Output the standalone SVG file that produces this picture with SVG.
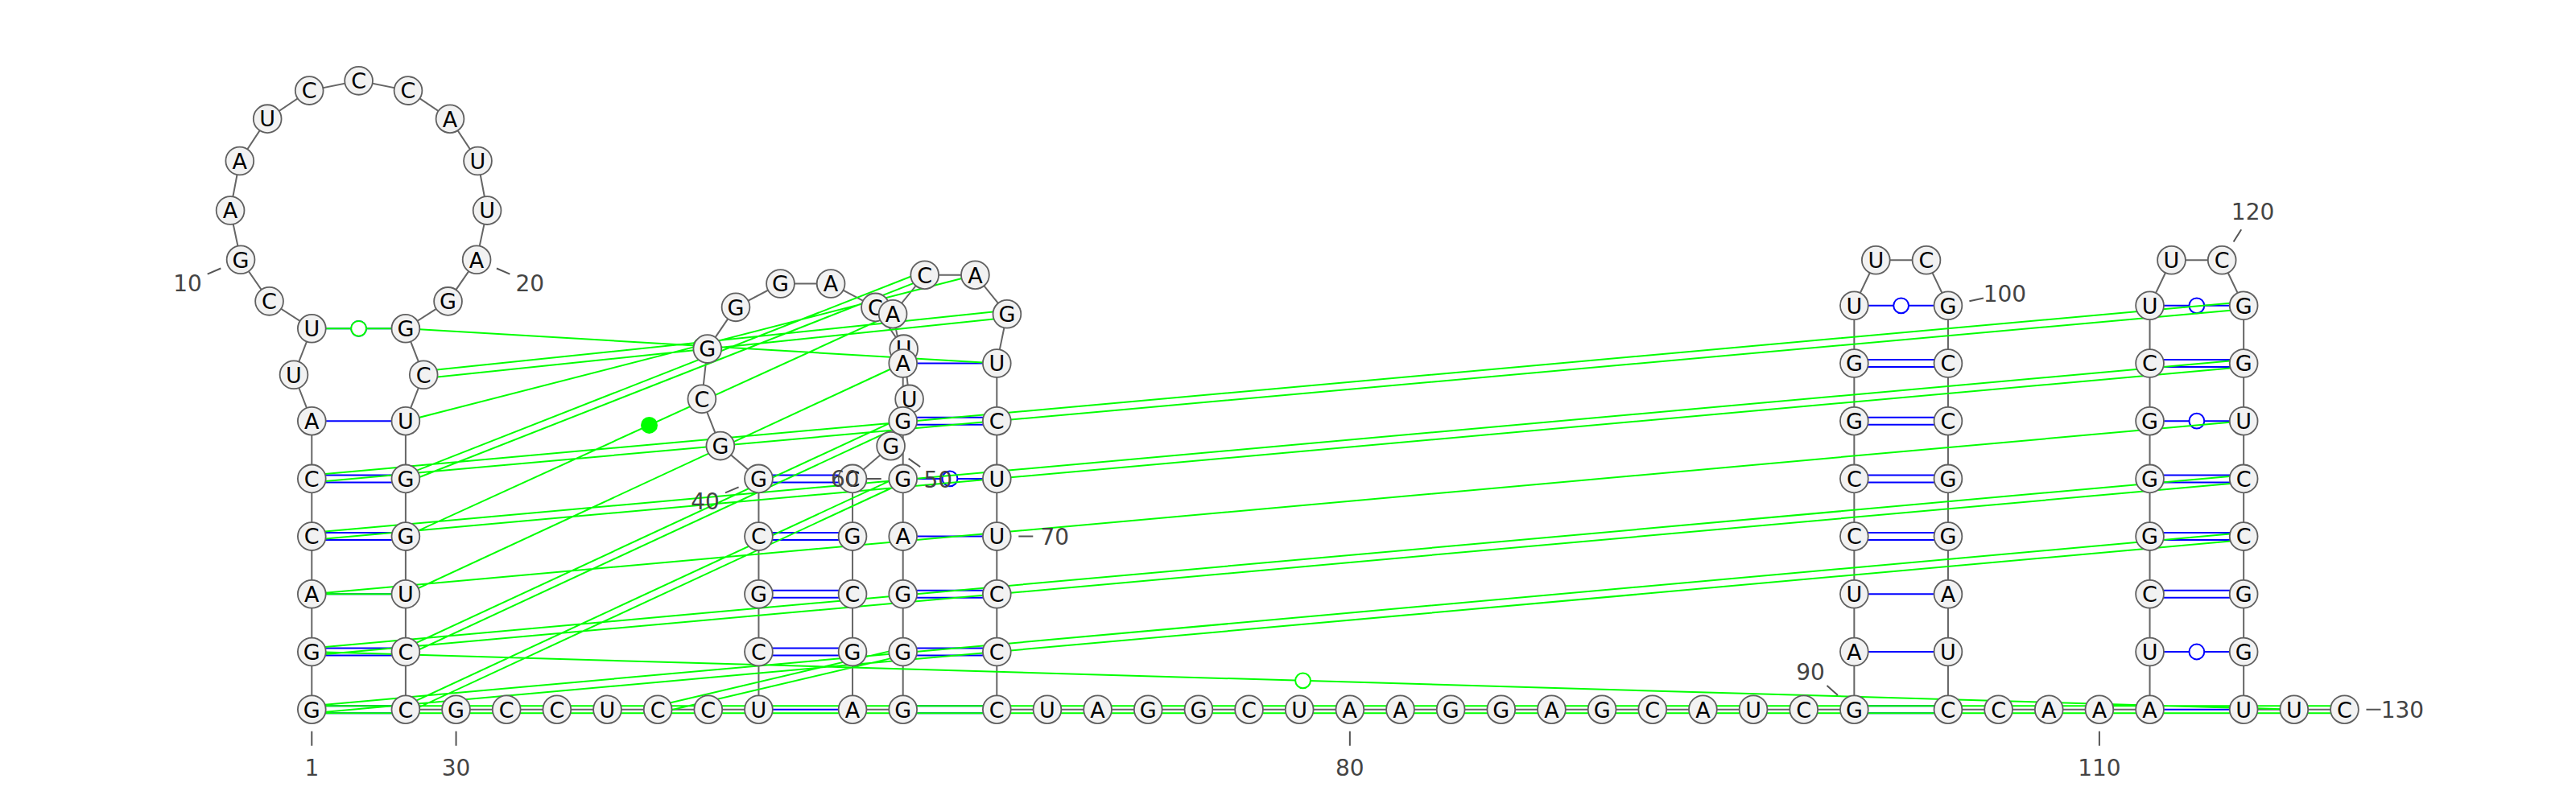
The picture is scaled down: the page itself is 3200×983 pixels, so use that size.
<svg xmlns="http://www.w3.org/2000/svg" width="3200" height="983" viewBox="0 0 3200 983">
<style>
.bb{fill:none;stroke:#666;stroke-width:2}
.bp{fill:none;stroke:#0000ff;stroke-width:2}
.bc{fill:#fff;stroke:#0000ff;stroke-width:2}
.gp{fill:none;stroke:#00ff00;stroke-width:2}
.gc{fill:#fff;stroke:#00ff00;stroke-width:2}
.gd{fill:#00ff00;stroke:none}
.nodes circle{fill:#f2f2f2;stroke:#606060;stroke-width:1.8}
.nodes text{font-family:"DejaVu Sans",Verdana,sans-serif;font-size:27px;fill:#000;text-anchor:middle}
.tick{fill:none;stroke:#555;stroke-width:2}
.num{font-family:"DejaVu Sans",Verdana,sans-serif;font-size:28px;fill:#444;text-anchor:middle}
</style>
<rect width="3200" height="983" fill="#fff"/>
<g id="connectors">
<polyline id="backbone" class="bb" points="387.3,881.7 387.3,810 387.3,738.3 387.3,666.6 387.3,594.9 387.3,523.2 365,465.75 387.3,408.3 334.55,374.34 299.05,322.8 286.1,261.5 297.8,199.96 332.2,147.65 384.2,112.6 445.6,100.34 507,112.6 559,147.7 593.5,200 605.1,261.6 592.1,322.8 556.55,374.4 503.9,408.3 526.2,465.75 503.9,523.2 503.9,594.9 503.9,666.6 503.9,738.3 503.9,810 503.9,881.7 942.45,881.7 942.45,594.9 894.85,554.1 871.9,495.85 878.8,433.6 914,381.85 969.5,352.5 1032.1,352.5 1087.5,381.9 1122.7,433.65 1129.6,495.9 1106.6,554.2 1059.05,594.9 1059.05,881.7 1121.7,881.7 1121.7,451.5 1109.1,390.2 1148.7,341.7 1211.4,341.7 1250.9,390.3 1238.3,451.5 1238.3,881.7 2303.35,881.7 2303.35,379.8 2330.3,323.3 2393,323.3 2419.95,379.8 2419.95,881.7 2670.55,881.7 2670.55,379.8 2697.5,323.3 2760.2,323.3 2787.15,379.8 2787.15,881.7 2912.45,881.7"/>
<g id="canonical-pairs">
<path class="bp" d="M387.3 877.2H503.9M387.3 886.2H503.9M387.3 805.5H503.9M387.3 814.5H503.9M387.3 738.3H503.9M387.3 662.1H503.9M387.3 671.1H503.9M387.3 590.4H503.9M387.3 599.4H503.9M387.3 523.2H503.9M387.3 408.3H503.9
M942.45 881.7H1059.05M942.45 805.5H1059.05M942.45 814.5H1059.05M942.45 733.8H1059.05M942.45 742.8H1059.05M942.45 662.1H1059.05M942.45 671.1H1059.05M942.45 590.4H1059.05M942.45 599.4H1059.05
M1121.7 877.2H1238.3M1121.7 886.2H1238.3M1121.7 805.5H1238.3M1121.7 814.5H1238.3M1121.7 733.8H1238.3M1121.7 742.8H1238.3M1121.7 666.6H1238.3M1121.7 594.9H1238.3M1121.7 518.7H1238.3M1121.7 527.7H1238.3M1121.7 451.5H1238.3
M2303.35 877.2H2419.95M2303.35 886.2H2419.95M2303.35 810H2419.95M2303.35 738.3H2419.95M2303.35 662.1H2419.95M2303.35 671.1H2419.95M2303.35 590.4H2419.95M2303.35 599.4H2419.95M2303.35 518.7H2419.95M2303.35 527.7H2419.95M2303.35 447H2419.95M2303.35 456H2419.95M2303.35 379.8H2419.95
M2670.55 881.7H2787.15M2670.55 810H2787.15M2670.55 733.8H2787.15M2670.55 742.8H2787.15M2670.55 662.1H2787.15M2670.55 671.1H2787.15M2670.55 590.4H2787.15M2670.55 599.4H2787.15M2670.55 523.2H2787.15M2670.55 447H2787.15M2670.55 456H2787.15M2670.55 379.8H2787.15"/>
<circle class="bc" cx="445.6" cy="408.3" r="9.4"/>
<circle class="bc" cx="1180" cy="594.9" r="9.4"/>
<circle class="bc" cx="2361.65" cy="379.8" r="9.4"/>
<circle class="bc" cx="2728.85" cy="810" r="9.4"/>
<circle class="bc" cx="2728.85" cy="523.2" r="9.4"/>
<circle class="bc" cx="2728.85" cy="379.8" r="9.4"/>
</g>
<g id="other-pairs">
<path class="gp" d="M387.7 886.18L2787.55 671.08M386.9 877.22L2786.75 662.12
M387.7 814.48L2787.55 599.38M386.9 805.52L2786.75 590.42
M387.3 738.3L2787.15 523.2
M387.7 671.08L2787.55 455.98M386.9 662.12L2786.75 447.02
M387.7 599.38L2787.55 384.28M386.9 590.42L2786.75 375.32
M387.3 877.2H2912.45M387.3 886.2H2912.45
M387.3 810L2849.8 881.7
M387.3 738.3H503.9
M387.3 408.3H503.9
M503.9 408.3L1238.3 451.5
M526.67 470.23L1251.37 394.78M525.73 461.27L1250.43 385.82
M503.9 523.2L1211.4 341.7
M505.55 599.09L1150.35 345.89M502.26 590.71L1147.06 337.51
M503.9 666.6L1109.1 390.2
M503.9 738.3L1121.7 451.5
M505.8 814.08L1123.6 527.28M502 805.92L1119.8 519.12
M505.8 885.78L1123.6 598.98M502 877.62L1119.8 590.82
M818.18 886.08L1122.73 814.38M816.12 877.32L1120.67 805.62"/>
<circle class="gc" cx="1618.55" cy="845.85" r="9.4"/>
<circle class="gc" cx="445.6" cy="408.3" r="9.4"/>
<circle class="gc" cx="871.1" cy="429.9" r="9.4"/>
<circle class="gd" cx="806.5" cy="528.4" r="10.5"/>
</g>
</g>
<g class="nodes">
<g id="n1"><circle cx="387.3" cy="881.7" r="17.4"/><text x="387.3" y="891.5">G</text></g>
<g id="n2"><circle cx="387.3" cy="810" r="17.4"/><text x="387.3" y="819.8">G</text></g>
<g id="n3"><circle cx="387.3" cy="738.3" r="17.4"/><text x="387.3" y="748.1">A</text></g>
<g id="n4"><circle cx="387.3" cy="666.6" r="17.4"/><text x="387.3" y="676.4">C</text></g>
<g id="n5"><circle cx="387.3" cy="594.9" r="17.4"/><text x="387.3" y="604.7">C</text></g>
<g id="n6"><circle cx="387.3" cy="523.2" r="17.4"/><text x="387.3" y="533">A</text></g>
<g id="n7"><circle cx="365" cy="465.75" r="17.4"/><text x="365" y="475.55">U</text></g>
<g id="n8"><circle cx="387.3" cy="408.3" r="17.4"/><text x="387.3" y="418.1">U</text></g>
<g id="n9"><circle cx="334.55" cy="374.34" r="17.4"/><text x="334.55" y="384.14">C</text></g>
<g id="n10"><circle cx="299.05" cy="322.8" r="17.4"/><text x="299.05" y="332.6">G</text></g>
<g id="n11"><circle cx="286.1" cy="261.5" r="17.4"/><text x="286.1" y="271.3">A</text></g>
<g id="n12"><circle cx="297.8" cy="199.96" r="17.4"/><text x="297.8" y="209.76">A</text></g>
<g id="n13"><circle cx="332.2" cy="147.65" r="17.4"/><text x="332.2" y="157.45">U</text></g>
<g id="n14"><circle cx="384.2" cy="112.6" r="17.4"/><text x="384.2" y="122.4">C</text></g>
<g id="n15"><circle cx="445.6" cy="100.34" r="17.4"/><text x="445.6" y="110.14">C</text></g>
<g id="n16"><circle cx="507" cy="112.6" r="17.4"/><text x="507" y="122.4">C</text></g>
<g id="n17"><circle cx="559" cy="147.7" r="17.4"/><text x="559" y="157.5">A</text></g>
<g id="n18"><circle cx="593.5" cy="200" r="17.4"/><text x="593.5" y="209.8">U</text></g>
<g id="n19"><circle cx="605.1" cy="261.6" r="17.4"/><text x="605.1" y="271.4">U</text></g>
<g id="n20"><circle cx="592.1" cy="322.8" r="17.4"/><text x="592.1" y="332.6">A</text></g>
<g id="n21"><circle cx="556.55" cy="374.4" r="17.4"/><text x="556.55" y="384.2">G</text></g>
<g id="n22"><circle cx="503.9" cy="408.3" r="17.4"/><text x="503.9" y="418.1">G</text></g>
<g id="n23"><circle cx="526.2" cy="465.75" r="17.4"/><text x="526.2" y="475.55">C</text></g>
<g id="n24"><circle cx="503.9" cy="523.2" r="17.4"/><text x="503.9" y="533">U</text></g>
<g id="n25"><circle cx="503.9" cy="594.9" r="17.4"/><text x="503.9" y="604.7">G</text></g>
<g id="n26"><circle cx="503.9" cy="666.6" r="17.4"/><text x="503.9" y="676.4">G</text></g>
<g id="n27"><circle cx="503.9" cy="738.3" r="17.4"/><text x="503.9" y="748.1">U</text></g>
<g id="n28"><circle cx="503.9" cy="810" r="17.4"/><text x="503.9" y="819.8">C</text></g>
<g id="n29"><circle cx="503.9" cy="881.7" r="17.4"/><text x="503.9" y="891.5">C</text></g>
<g id="n30"><circle cx="566.55" cy="881.7" r="17.4"/><text x="566.55" y="891.5">G</text></g>
<g id="n31"><circle cx="629.2" cy="881.7" r="17.4"/><text x="629.2" y="891.5">C</text></g>
<g id="n32"><circle cx="691.85" cy="881.7" r="17.4"/><text x="691.85" y="891.5">C</text></g>
<g id="n33"><circle cx="754.5" cy="881.7" r="17.4"/><text x="754.5" y="891.5">U</text></g>
<g id="n34"><circle cx="817.15" cy="881.7" r="17.4"/><text x="817.15" y="891.5">C</text></g>
<g id="n35"><circle cx="879.8" cy="881.7" r="17.4"/><text x="879.8" y="891.5">C</text></g>
<g id="n36"><circle cx="942.45" cy="881.7" r="17.4"/><text x="942.45" y="891.5">U</text></g>
<g id="n37"><circle cx="942.45" cy="810" r="17.4"/><text x="942.45" y="819.8">C</text></g>
<g id="n38"><circle cx="942.45" cy="738.3" r="17.4"/><text x="942.45" y="748.1">G</text></g>
<g id="n39"><circle cx="942.45" cy="666.6" r="17.4"/><text x="942.45" y="676.4">C</text></g>
<g id="n40"><circle cx="942.45" cy="594.9" r="17.4"/><text x="942.45" y="604.7">G</text></g>
<g id="n41"><circle cx="894.85" cy="554.1" r="17.4"/><text x="894.85" y="563.9">G</text></g>
<g id="n42"><circle cx="871.9" cy="495.85" r="17.4"/><text x="871.9" y="505.65">C</text></g>
<g id="n43"><circle cx="878.8" cy="433.6" r="17.4"/><text x="878.8" y="443.4">G</text></g>
<g id="n44"><circle cx="914" cy="381.85" r="17.4"/><text x="914" y="391.65">G</text></g>
<g id="n45"><circle cx="969.5" cy="352.5" r="17.4"/><text x="969.5" y="362.3">G</text></g>
<g id="n46"><circle cx="1032.1" cy="352.5" r="17.4"/><text x="1032.1" y="362.3">A</text></g>
<g id="n47"><circle cx="1087.5" cy="381.9" r="17.4"/><text x="1087.5" y="391.7">C</text></g>
<g id="n48"><circle cx="1122.7" cy="433.65" r="17.4"/><text x="1122.7" y="443.45">U</text></g>
<g id="n49"><circle cx="1129.6" cy="495.9" r="17.4"/><text x="1129.6" y="505.7">U</text></g>
<g id="n50"><circle cx="1106.6" cy="554.2" r="17.4"/><text x="1106.6" y="564">G</text></g>
<g id="n51"><circle cx="1059.05" cy="594.9" r="17.4"/><text x="1059.05" y="604.7">C</text></g>
<g id="n52"><circle cx="1059.05" cy="666.6" r="17.4"/><text x="1059.05" y="676.4">G</text></g>
<g id="n53"><circle cx="1059.05" cy="738.3" r="17.4"/><text x="1059.05" y="748.1">C</text></g>
<g id="n54"><circle cx="1059.05" cy="810" r="17.4"/><text x="1059.05" y="819.8">G</text></g>
<g id="n55"><circle cx="1059.05" cy="881.7" r="17.4"/><text x="1059.05" y="891.5">A</text></g>
<g id="n56"><circle cx="1121.7" cy="881.7" r="17.4"/><text x="1121.7" y="891.5">G</text></g>
<g id="n57"><circle cx="1121.7" cy="810" r="17.4"/><text x="1121.7" y="819.8">G</text></g>
<g id="n58"><circle cx="1121.7" cy="738.3" r="17.4"/><text x="1121.7" y="748.1">G</text></g>
<g id="n59"><circle cx="1121.7" cy="666.6" r="17.4"/><text x="1121.7" y="676.4">A</text></g>
<g id="n60"><circle cx="1121.7" cy="594.9" r="17.4"/><text x="1121.7" y="604.7">G</text></g>
<g id="n61"><circle cx="1121.7" cy="523.2" r="17.4"/><text x="1121.7" y="533">G</text></g>
<g id="n62"><circle cx="1121.7" cy="451.5" r="17.4"/><text x="1121.7" y="461.3">A</text></g>
<g id="n63"><circle cx="1109.1" cy="390.2" r="17.4"/><text x="1109.1" y="400">A</text></g>
<g id="n64"><circle cx="1148.7" cy="341.7" r="17.4"/><text x="1148.7" y="351.5">C</text></g>
<g id="n65"><circle cx="1211.4" cy="341.7" r="17.4"/><text x="1211.4" y="351.5">A</text></g>
<g id="n66"><circle cx="1250.9" cy="390.3" r="17.4"/><text x="1250.9" y="400.1">G</text></g>
<g id="n67"><circle cx="1238.3" cy="451.5" r="17.4"/><text x="1238.3" y="461.3">U</text></g>
<g id="n68"><circle cx="1238.3" cy="523.2" r="17.4"/><text x="1238.3" y="533">C</text></g>
<g id="n69"><circle cx="1238.3" cy="594.9" r="17.4"/><text x="1238.3" y="604.7">U</text></g>
<g id="n70"><circle cx="1238.3" cy="666.6" r="17.4"/><text x="1238.3" y="676.4">U</text></g>
<g id="n71"><circle cx="1238.3" cy="738.3" r="17.4"/><text x="1238.3" y="748.1">C</text></g>
<g id="n72"><circle cx="1238.3" cy="810" r="17.4"/><text x="1238.3" y="819.8">C</text></g>
<g id="n73"><circle cx="1238.3" cy="881.7" r="17.4"/><text x="1238.3" y="891.5">C</text></g>
<g id="n74"><circle cx="1300.95" cy="881.7" r="17.4"/><text x="1300.95" y="891.5">U</text></g>
<g id="n75"><circle cx="1363.6" cy="881.7" r="17.4"/><text x="1363.6" y="891.5">A</text></g>
<g id="n76"><circle cx="1426.25" cy="881.7" r="17.4"/><text x="1426.25" y="891.5">G</text></g>
<g id="n77"><circle cx="1488.9" cy="881.7" r="17.4"/><text x="1488.9" y="891.5">G</text></g>
<g id="n78"><circle cx="1551.55" cy="881.7" r="17.4"/><text x="1551.55" y="891.5">C</text></g>
<g id="n79"><circle cx="1614.2" cy="881.7" r="17.4"/><text x="1614.2" y="891.5">U</text></g>
<g id="n80"><circle cx="1676.85" cy="881.7" r="17.4"/><text x="1676.85" y="891.5">A</text></g>
<g id="n81"><circle cx="1739.5" cy="881.7" r="17.4"/><text x="1739.5" y="891.5">A</text></g>
<g id="n82"><circle cx="1802.15" cy="881.7" r="17.4"/><text x="1802.15" y="891.5">G</text></g>
<g id="n83"><circle cx="1864.8" cy="881.7" r="17.4"/><text x="1864.8" y="891.5">G</text></g>
<g id="n84"><circle cx="1927.45" cy="881.7" r="17.4"/><text x="1927.45" y="891.5">A</text></g>
<g id="n85"><circle cx="1990.1" cy="881.7" r="17.4"/><text x="1990.1" y="891.5">G</text></g>
<g id="n86"><circle cx="2052.75" cy="881.7" r="17.4"/><text x="2052.75" y="891.5">C</text></g>
<g id="n87"><circle cx="2115.4" cy="881.7" r="17.4"/><text x="2115.4" y="891.5">A</text></g>
<g id="n88"><circle cx="2178.05" cy="881.7" r="17.4"/><text x="2178.05" y="891.5">U</text></g>
<g id="n89"><circle cx="2240.7" cy="881.7" r="17.4"/><text x="2240.7" y="891.5">C</text></g>
<g id="n90"><circle cx="2303.35" cy="881.7" r="17.4"/><text x="2303.35" y="891.5">G</text></g>
<g id="n91"><circle cx="2303.35" cy="810" r="17.4"/><text x="2303.35" y="819.8">A</text></g>
<g id="n92"><circle cx="2303.35" cy="738.3" r="17.4"/><text x="2303.35" y="748.1">U</text></g>
<g id="n93"><circle cx="2303.35" cy="666.6" r="17.4"/><text x="2303.35" y="676.4">C</text></g>
<g id="n94"><circle cx="2303.35" cy="594.9" r="17.4"/><text x="2303.35" y="604.7">C</text></g>
<g id="n95"><circle cx="2303.35" cy="523.2" r="17.4"/><text x="2303.35" y="533">G</text></g>
<g id="n96"><circle cx="2303.35" cy="451.5" r="17.4"/><text x="2303.35" y="461.3">G</text></g>
<g id="n97"><circle cx="2303.35" cy="379.8" r="17.4"/><text x="2303.35" y="389.6">U</text></g>
<g id="n98"><circle cx="2330.3" cy="323.3" r="17.4"/><text x="2330.3" y="333.1">U</text></g>
<g id="n99"><circle cx="2393" cy="323.3" r="17.4"/><text x="2393" y="333.1">C</text></g>
<g id="n100"><circle cx="2419.95" cy="379.8" r="17.4"/><text x="2419.95" y="389.6">G</text></g>
<g id="n101"><circle cx="2419.95" cy="451.5" r="17.4"/><text x="2419.95" y="461.3">C</text></g>
<g id="n102"><circle cx="2419.95" cy="523.2" r="17.4"/><text x="2419.95" y="533">C</text></g>
<g id="n103"><circle cx="2419.95" cy="594.9" r="17.4"/><text x="2419.95" y="604.7">G</text></g>
<g id="n104"><circle cx="2419.95" cy="666.6" r="17.4"/><text x="2419.95" y="676.4">G</text></g>
<g id="n105"><circle cx="2419.95" cy="738.3" r="17.4"/><text x="2419.95" y="748.1">A</text></g>
<g id="n106"><circle cx="2419.95" cy="810" r="17.4"/><text x="2419.95" y="819.8">U</text></g>
<g id="n107"><circle cx="2419.95" cy="881.7" r="17.4"/><text x="2419.95" y="891.5">C</text></g>
<g id="n108"><circle cx="2482.6" cy="881.7" r="17.4"/><text x="2482.6" y="891.5">C</text></g>
<g id="n109"><circle cx="2545.25" cy="881.7" r="17.4"/><text x="2545.25" y="891.5">A</text></g>
<g id="n110"><circle cx="2607.9" cy="881.7" r="17.4"/><text x="2607.9" y="891.5">A</text></g>
<g id="n111"><circle cx="2670.55" cy="881.7" r="17.4"/><text x="2670.55" y="891.5">A</text></g>
<g id="n112"><circle cx="2670.55" cy="810" r="17.4"/><text x="2670.55" y="819.8">U</text></g>
<g id="n113"><circle cx="2670.55" cy="738.3" r="17.4"/><text x="2670.55" y="748.1">C</text></g>
<g id="n114"><circle cx="2670.55" cy="666.6" r="17.4"/><text x="2670.55" y="676.4">G</text></g>
<g id="n115"><circle cx="2670.55" cy="594.9" r="17.4"/><text x="2670.55" y="604.7">G</text></g>
<g id="n116"><circle cx="2670.55" cy="523.2" r="17.4"/><text x="2670.55" y="533">G</text></g>
<g id="n117"><circle cx="2670.55" cy="451.5" r="17.4"/><text x="2670.55" y="461.3">C</text></g>
<g id="n118"><circle cx="2670.55" cy="379.8" r="17.4"/><text x="2670.55" y="389.6">U</text></g>
<g id="n119"><circle cx="2697.5" cy="323.3" r="17.4"/><text x="2697.5" y="333.1">U</text></g>
<g id="n120"><circle cx="2760.2" cy="323.3" r="17.4"/><text x="2760.2" y="333.1">C</text></g>
<g id="n121"><circle cx="2787.15" cy="379.8" r="17.4"/><text x="2787.15" y="389.6">G</text></g>
<g id="n122"><circle cx="2787.15" cy="451.5" r="17.4"/><text x="2787.15" y="461.3">G</text></g>
<g id="n123"><circle cx="2787.15" cy="523.2" r="17.4"/><text x="2787.15" y="533">U</text></g>
<g id="n124"><circle cx="2787.15" cy="594.9" r="17.4"/><text x="2787.15" y="604.7">C</text></g>
<g id="n125"><circle cx="2787.15" cy="666.6" r="17.4"/><text x="2787.15" y="676.4">C</text></g>
<g id="n126"><circle cx="2787.15" cy="738.3" r="17.4"/><text x="2787.15" y="748.1">G</text></g>
<g id="n127"><circle cx="2787.15" cy="810" r="17.4"/><text x="2787.15" y="819.8">G</text></g>
<g id="n128"><circle cx="2787.15" cy="881.7" r="17.4"/><text x="2787.15" y="891.5">U</text></g>
<g id="n129"><circle cx="2849.8" cy="881.7" r="17.4"/><text x="2849.8" y="891.5">U</text></g>
<g id="n130"><circle cx="2912.45" cy="881.7" r="17.4"/><text x="2912.45" y="891.5">C</text></g>
</g>
<g id="numbering">
<path class="tick" d="M387.3 908.7V926.7M274.3 333.5L257.7 340.6M616.9 333.5L633.4 340.6M566.55 908.7V926.7M917.6 605.4L901 612.4M1128.6 569.9L1143.2 580.3M1094.7 594.9H1076.7M1265.3 666.6H1283.3M1676.85 908.7V926.7M2283 863.9L2269.5 852.1M2446.4 374.2L2464 370.5M2607.9 908.7V926.7M2774.6 300.5L2784.2 285.2M2939.45 881.7H2957.45"/>
<text class="num" x="387.3" y="963.9">1</text>
<text class="num" x="232.95" y="361.5">10</text>
<text class="num" x="658.2" y="361.5">20</text>
<text class="num" x="566.55" y="963.9">30</text>
<text class="num" x="876.1" y="633.2">40</text>
<text class="num" x="1165.2" y="606.2">50</text>
<text class="num" x="1049.7" y="605.1">60</text>
<text class="num" x="1310.3" y="676.8">70</text>
<text class="num" x="1676.85" y="963.9">80</text>
<text class="num" x="2249.1" y="844.5">90</text>
<text class="num" x="2490.4" y="375.2">100</text>
<text class="num" x="2607.9" y="963.9">110</text>
<text class="num" x="2798.6" y="272.6">120</text>
<text class="num" x="2984.45" y="891.9">130</text>
</g>
</svg>
